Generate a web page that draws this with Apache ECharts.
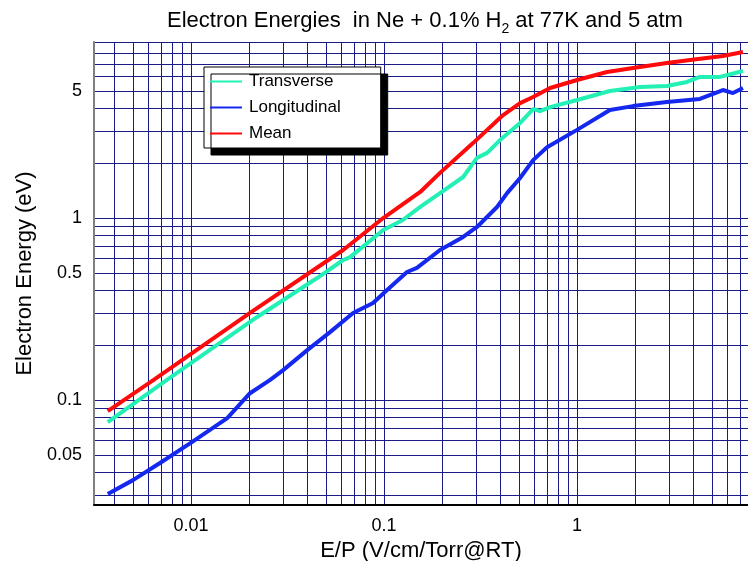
<!DOCTYPE html>
<html>
<head>
<meta charset="utf-8">
<script src="https://cdn.jsdelivr.net/npm/echarts@6/dist/echarts.min.js"></script>
<style>
html,body{margin:0;padding:0;background:#fff;}
#chart{width:748px;height:561px;}
</style>
</head>
<body>
<div id="chart"></div>
<script>
// ---- data (E/P in V/cm/Torr@RT, energies in eV) ----
const seriesNames = ['Transverse', 'Longitudinal', 'Mean'];

const transverse = [
  [0.0037, 0.0757], [0.0075, 0.129], [0.022, 0.286], [0.045, 0.468],
  [0.0614, 0.588], [0.0667, 0.610], [0.099, 0.859], [0.125, 0.975],
  [0.154, 1.15], [0.195, 1.37], [0.257, 1.68], [0.303, 2.14],
  [0.342, 2.28], [0.399, 2.68], [0.507, 3.33], [0.592, 3.97],
  [0.643, 3.87], [0.725, 4.07], [1.0, 4.45], [1.48, 4.99],
  [2.12, 5.25], [2.92, 5.31], [3.71, 5.59], [4.33, 5.96],
  [5.51, 5.96], [7.24, 6.42]
];

const longitudinal = [
  [0.0037, 0.0305], [0.005, 0.0363], [0.0069, 0.0451], [0.0101, 0.0587],
  [0.0154, 0.0796], [0.0202, 0.109], [0.0257, 0.129], [0.030, 0.146],
  [0.040, 0.188], [0.0525, 0.236], [0.0691, 0.301], [0.0877, 0.341],
  [0.1037, 0.402], [0.1315, 0.505], [0.148, 0.532], [0.195, 0.667],
  [0.257, 0.787], [0.303, 0.893], [0.385, 1.15], [0.434, 1.37],
  [0.507, 1.66], [0.592, 2.08], [0.699, 2.45], [1.0, 3.05],
  [1.48, 3.92], [1.95, 4.12], [2.92, 4.34], [4.33, 4.51],
  [5.70, 5.05], [6.43, 4.86], [7.24, 5.18]
];

const mean = [
  [0.0037, 0.087], [0.0064, 0.129], [0.0202, 0.301], [0.0614, 0.667],
  [0.099, 1.0], [0.154, 1.39], [0.195, 1.77], [0.289, 2.58],
  [0.414, 3.68], [0.507, 4.28], [0.592, 4.62], [0.725, 5.18],
  [1.0, 5.73], [1.43, 6.34], [1.95, 6.67], [2.92, 7.11],
  [3.85, 7.38], [5.70, 7.76], [7.24, 8.17]
];

// axis ranges, grid lines and labels
const xMin = 0.00314, xMax = 7.69;
const yMin = 0.0265, yMax = 9.27;
const xGridValues = [0.004,0.005,0.006,0.007,0.008,0.009,
  0.01,0.02,0.03,0.04,0.05,0.06,0.07,0.08,0.09,
  0.1,0.2,0.3,0.4,0.5,0.6,0.7,0.8,0.9,
  1,2,3,4,5,6,7];
const xLabelValues = [0.01, 0.1, 1];
const yGridValues = [0.03,0.04,0.05,0.06,0.07,0.08,0.09,
  0.1,0.2,0.3,0.4,0.5,0.6,0.7,0.8,0.9,
  1,2,3,4,5,6,7,8,9.27];
const yLabelValues = [0.05, 0.1, 0.5, 1, 5];

const colors = ['#22F0B4', '#1428F0', '#FF0A0A'];
const FONT = 'Liberation Sans, Arial, sans-serif';
const gridColor = '#1a1a88';

const chart = echarts.init(document.getElementById('chart'), null, {renderer: 'canvas'});
chart.setOption({
  animation: false,
  backgroundColor: '#ffffff',
  title: {
    text: 'Electron Energies  in Ne + 0.1% H{sub|2} at 77K and 5 atm',
    left: 167, top: 6, padding: 0,
    textStyle: {
      fontFamily: FONT, fontSize: 22, fontWeight: 'normal', color: '#000',
      rich: { sub: { fontFamily: FONT, fontSize: 14, color: '#000', verticalAlign: 'bottom', lineHeight: 30 } }
    }
  },
  legend: {
    data: seriesNames,
    orient: 'vertical',
    left: 204, top: 67,
    padding: [6, 40, 6, 6],
    itemGap: 9,
    itemWidth: 32, itemHeight: 2,
    icon: 'rect',
    itemStyle: {borderWidth: 0},
    textStyle: {fontFamily: FONT, fontSize: 17, color: '#000', padding: [0,0,0,2]},
    backgroundColor: '#fff',
    borderColor: '#000', borderWidth: 1, borderRadius: 0,
    shadowColor: '#000', shadowBlur: 0, shadowOffsetX: 7, shadowOffsetY: 7
  },
  grid: { left: 94, right: 0, top: 42, bottom: 56, containLabel: false, outerBoundsMode: 'none' },
  xAxis: {
    type: 'log', logBase: 10, min: xMin, max: xMax,
    name: 'E/P (V/cm/Torr@RT)', nameLocation: 'middle', nameGap: 27,
    nameTextStyle: {fontFamily: FONT, fontSize: 22, color: '#000'},
    axisLine: {show: true, onZero: false, lineStyle: {color: '#000', width: 2}},
    axisTick: {show: false, customValues: xGridValues},
    axisLabel: {customValues: xLabelValues, fontFamily: FONT, fontSize: 18, color: '#000', margin: 12,
      formatter: v => String(+v.toPrecision(6))},
    splitLine: {show: true, lineStyle: {color: gridColor, width: 1}},
    minorSplitLine: {show: false}
  },
  yAxis: {
    type: 'log', logBase: 10, min: yMin, max: yMax,
    name: 'Electron Energy (eV)', nameLocation: 'middle', nameGap: 56,
    nameTextStyle: {fontFamily: FONT, fontSize: 22, color: '#000'},
    axisLine: {show: true, onZero: false, lineStyle: {color: '#808080', width: 2}},
    axisTick: {show: false, customValues: yGridValues},
    axisLabel: {customValues: yLabelValues, fontFamily: FONT, fontSize: 18, color: '#000', margin: 12,
      formatter: v => String(+v.toPrecision(6))},
    splitLine: {show: true, lineStyle: {color: gridColor, width: 1}},
    minorSplitLine: {show: false}
  },
  series: [
    {name: seriesNames[0], type: 'line', data: transverse, showSymbol: false, smooth: false,
     lineStyle: {color: colors[0], width: 4}, itemStyle: {color: colors[0]}, z: 3},
    {name: seriesNames[1], type: 'line', data: longitudinal, showSymbol: false, smooth: false,
     lineStyle: {color: colors[1], width: 4}, itemStyle: {color: colors[1]}, z: 3},
    {name: seriesNames[2], type: 'line', data: mean, showSymbol: false, smooth: false,
     lineStyle: {color: colors[2], width: 4}, itemStyle: {color: colors[2]}, z: 3}
  ]
});
</script>
</body>
</html>
